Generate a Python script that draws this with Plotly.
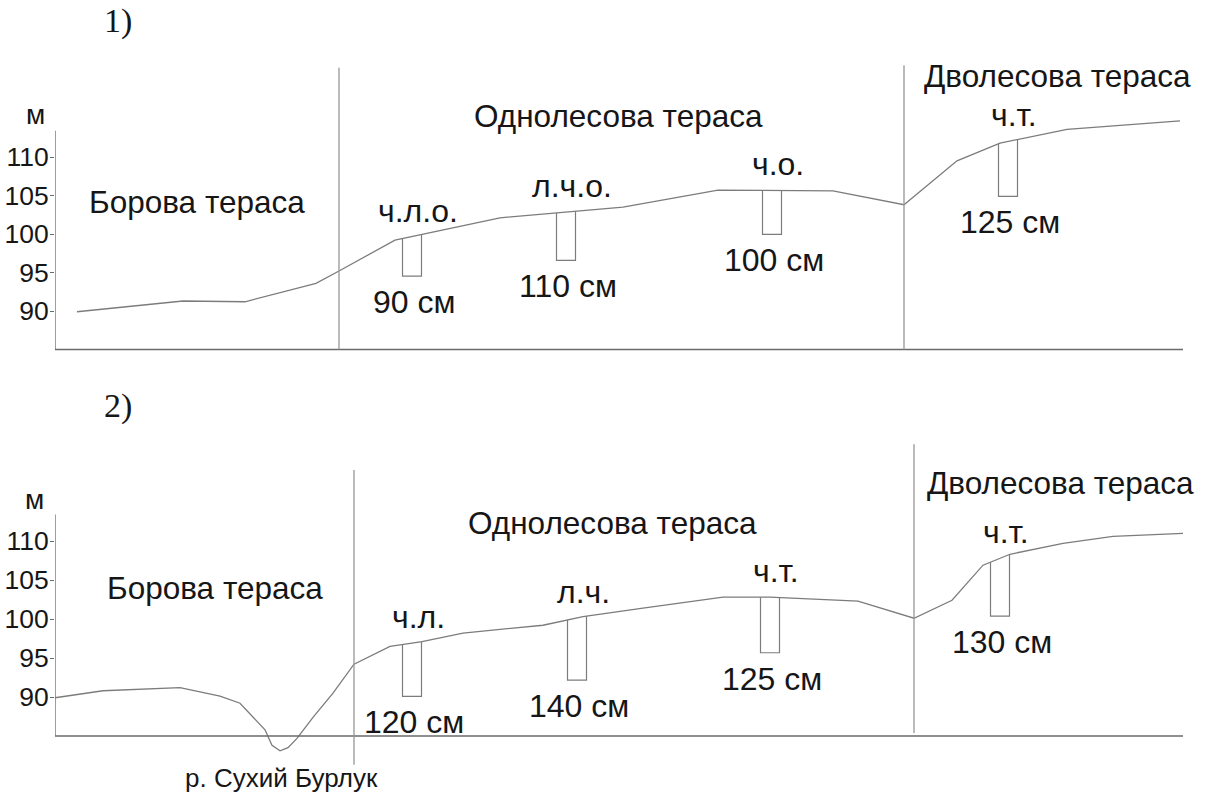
import numpy as np
import plotly.graph_objects as go

# ---------------- Profile 1 ----------------
p1_dist = [22, 128, 190, 261, 284, 340, 445, 568, 663, 778, 849, 902, 945, 1012, 1125]
p1_elev = [89.9, 91.3, 91.2, 93.6, 95.2, 99.2, 102.1, 103.5, 105.7, 105.6, 103.8,
           109.5, 111.8, 113.6, 114.7]
p1_bounds = [284, 849]
p1_pit_dist = [357, 511, 717, 953]
p1_soils = ["ч.л.о.", "л.ч.о.", "ч.о.", "ч.т."]
p1_depth_cm = [90, 110, 100, 125]

# ---------------- Profile 2 ----------------
p2_dist = [0, 48, 125, 165, 185, 210, 217, 225, 233, 242, 258, 278, 299, 335, 367,
           408, 488, 528, 588, 668, 715, 803, 859, 897, 928, 955, 1008, 1058, 1130]
p2_elev = [89.9, 90.8, 91.2, 90.1, 89.2, 85.8, 83.8, 83.1, 83.5, 84.7, 87.4, 90.5,
           94.2, 96.5, 97.1, 98.2, 99.2, 100.3, 101.4, 102.8, 102.8, 102.3, 100.1,
           102.4, 106.9, 108.3, 109.7, 110.6, 111.0]
p2_bounds = [299, 859]
p2_pit_dist = [357, 522, 715, 945]
p2_soils = ["ч.л.", "л.ч.", "ч.т.", "ч.т."]
p2_depth_cm = [120, 140, 125, 130]

terrace_names = ["Борова тераса", "Однолесова тераса", "Дволесова тераса"]
river_name = "р. Сухий Бурлук"
tick_vals = [90, 95, 100, 105, 110]
tick_text = ["90", "95", "100", "105", "110"]

# ---------------- layout helpers ----------------
W, H = 1208, 794
X_LEFT, X_RIGHT = 55, 1183          # plot edges, px
X_RANGE = [0, X_RIGHT - X_LEFT]
BASE = 85.0                          # elevation of the baseline
AXIS_TOP = 113.4                     # top of the drawn elevation axis
PIT_EXAG = 5.7                       # vertical exaggeration of soil pits
PIT_W = 19

LINE_C = "#7c7c7c"
AXIS_C = "#6a6a6a"
BOUND_C = "#969696"
TEXT_C = "#161616"
SANS = "Liberation Sans, Arial, sans-serif"
SERIF = "Liberation Serif, Times New Roman, serif"
LABEL_SIZE = 32
TERRACE_SIZE = 31.5


def y_axis_setup(ref_px, ref_val, px_per_m, top_px, bot_px):
    rng = [ref_val - (bot_px - ref_px) / px_per_m, ref_val + (ref_px - top_px) / px_per_m]
    dom = [1 - bot_px / H, 1 - top_px / H]
    return rng, dom


def px_x(px):
    return px / W


def px_y(py):
    return 1 - py / H


panels = [
    dict(dist=p1_dist, elev=p1_elev, bounds=p1_bounds, pits=p1_pit_dist,
         soils=p1_soils, depths=p1_depth_cm,
         yset=y_axis_setup(311, 90, 7.7, 40, 360),
         bound_ext=[(BASE, 121.6), (BASE, 121.9)]),
    dict(dist=p2_dist, elev=p2_elev, bounds=p2_bounds, pits=p2_pit_dist,
         soils=p2_soils, depths=p2_depth_cm,
         yset=y_axis_setup(697, 90, 7.8, 430, 790),
         bound_ext=[(81.3, 119.1), (85.4, 122.4)]),
]

fig = go.Figure()
shapes, annotations = [], []

for i, p in enumerate(panels, start=1):
    sfx = "" if i == 1 else str(i)
    xr, yr = "x" + sfx, "y" + sfx
    dist = np.array(p["dist"], float)
    elev = np.array(p["elev"], float)

    # ground profile
    fig.add_trace(go.Scatter(x=dist, y=elev, mode="lines", xaxis=xr, yaxis=yr,
                             line=dict(color=LINE_C, width=1.3), hoverinfo="skip",
                             showlegend=False))

    # soil pits hanging from the surface
    for xc, soil, depth in zip(p["pits"], p["soils"], p["depths"]):
        xl, xrt = xc - PIT_W / 2, xc + PIT_W / 2
        top_c = float(np.interp(xc, dist, elev))
        bottom = top_c - depth / 100 * PIT_EXAG
        fig.add_trace(go.Scatter(
            x=[xl, xl, xrt, xrt],
            y=[np.interp(xl, dist, elev), bottom, bottom, np.interp(xrt, dist, elev)],
            mode="lines", xaxis=xr, yaxis=yr, hoverinfo="skip", showlegend=False,
            line=dict(color=LINE_C, width=1.2)))
        annotations.append(dict(x=xc + 6, y=top_c, xref=xr, yref=yr, text=soil,
                                showarrow=False, yanchor="bottom", yshift=6,
                                font=dict(family=SANS, size=LABEL_SIZE, color=TEXT_C)))
        annotations.append(dict(x=xc + 2, y=bottom, xref=xr, yref=yr,
                                text=f"{depth} см", showarrow=False,
                                yanchor="top", yshift=-6,
                                font=dict(family=SANS, size=LABEL_SIZE, color=TEXT_C)))

    # axes drawn as plain lines
    shapes.append(dict(type="line", xref=xr, yref=yr, x0=0, x1=0, y0=BASE, y1=AXIS_TOP,
                       line=dict(color=AXIS_C, width=1.3)))
    shapes.append(dict(type="line", xref=xr, yref=yr, x0=0, x1=X_RANGE[1], y0=BASE,
                       y1=BASE, line=dict(color=AXIS_C, width=1.3)))
    # terrace boundaries
    for xb, (y0, y1) in zip(p["bounds"], p["bound_ext"]):
        shapes.append(dict(type="line", xref=xr, yref=yr, x0=xb, x1=xb, y0=y0, y1=y1,
                           line=dict(color=BOUND_C, width=1.3)))

    rng, dom = p["yset"]
    fig.update_layout(**{
        ("xaxis" + sfx): dict(range=X_RANGE, domain=[X_LEFT / W, X_RIGHT / W],
                              visible=False, anchor=yr),
        ("yaxis" + sfx): dict(range=rng, domain=dom, anchor=xr, tickvals=tick_vals,
                              ticktext=tick_text, ticks="outside", ticklen=4,
                              tickwidth=1, tickcolor=AXIS_C, showline=False,
                              showgrid=False, zeroline=False, ticklabelstandoff=-4,
                              tickfont=dict(family=SANS, size=26.5, color=TEXT_C)),
    })

# text placed on the page
def page_text(text, cx, cy, size, family=SANS):
    annotations.append(dict(x=px_x(cx), y=px_y(cy), xref="paper", yref="paper",
                            text=text, showarrow=False, xanchor="center",
                            yanchor="middle",
                            font=dict(family=family, size=size, color=TEXT_C)))

page_text("1)", 118, 21, 34, SERIF)
page_text("2)", 118, 406, 34, SERIF)
page_text("м", 35, 115, 28)
page_text("м", 34, 500, 28)

for name, (cx, cy) in zip(terrace_names, [(197, 202), (618, 116), (1057, 76)]):
    page_text(name, cx, cy, TERRACE_SIZE)
for name, (cx, cy) in zip(terrace_names, [(215, 588), (612, 523), (1060, 483)]):
    page_text(name, cx, cy, TERRACE_SIZE)
page_text(river_name, 281, 778, 26)

fig.update_layout(width=W, height=H, margin=dict(l=0, r=0, t=0, b=0),
                  paper_bgcolor="white", plot_bgcolor="white",
                  shapes=shapes, annotations=annotations, showlegend=False)

fig.write_html("out.html")
